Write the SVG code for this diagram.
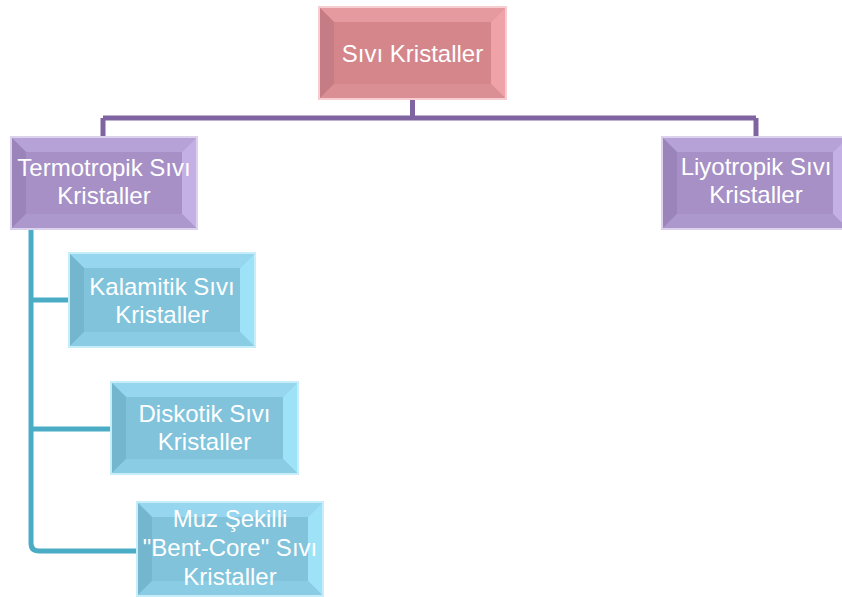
<svg xmlns="http://www.w3.org/2000/svg" width="842" height="597" viewBox="0 0 842 597">
<style>
  .pink { --o:#F6CDD0; --m:#D4868B; --t:#E59AA0; --l:#C67C84; --r:#EFA3A8; --b:#DA8F94; }
  .purple { --o:#DDD2EE; --m:#A690C6; --t:#B7A2D7; --l:#9B84BA; --r:#C4B0E4; --b:#AD98CE; }
  .blue { --o:#C6EEFA; --m:#80C3DB; --t:#96D6EE; --l:#74B6CE; --r:#9EE2F8; --b:#89CCE3; }
  .frame { fill: none; stroke: var(--o); stroke-width: 2; }
  .face { fill: var(--m); }
  .bt { fill: var(--t); }
  .bl { fill: var(--l); }
  .br { fill: var(--r); }
  .bb { fill: var(--b); }
  .lbl { font-family: "Liberation Sans", Arial, sans-serif; font-size: 24px; fill: #FFFFFF; text-anchor: middle; }
  .cp { fill: none; stroke: #8064A2; stroke-width: 5; }
  .cb { fill: none; stroke: #4BACC6; stroke-width: 5; }
</style>
<rect width="842" height="597" fill="#FFFFFF"/>
<g id="connectors">
  <path class="cp" d="M412.5 98 V118 M103 118 H756 M103 118 V139 M756 118 V139"/>
  <path class="cb" d="M31 228 V543 Q31 551 39 551 H139 M31 300 H71 M31 429 H113"/>
</g>
<g id="n-sivi" class="pink" transform="translate(320,8)">
  <rect class="frame" x="-1" y="-1" width="187" height="92"/>
  <rect class="face" width="185" height="90"/>
  <polygon class="bt" points="0,0 185,0 171,14 14,14"/>
  <polygon class="bl" points="0,0 14,14 14,76 0,90"/>
  <polygon class="br" points="185,0 185,90 171,76 171,14"/>
  <polygon class="bb" points="0,90 14,76 171,76 185,90"/>
  <text class="lbl" x="92.5" y="54">Sıvı Kristaller</text>
</g>
<g id="n-termo" class="purple" transform="translate(12,138)">
  <rect class="frame" x="-1" y="-1" width="186" height="92"/>
  <rect class="face" width="184" height="90"/>
  <polygon class="bt" points="0,0 184,0 170,14 14,14"/>
  <polygon class="bl" points="0,0 14,14 14,76 0,90"/>
  <polygon class="br" points="184,0 184,90 170,76 170,14"/>
  <polygon class="bb" points="0,90 14,76 170,76 184,90"/>
  <text class="lbl" x="92" y="38">Termotropik Sıvı</text>
  <text class="lbl" x="92" y="66">Kristaller</text>
</g>
<g id="n-liyo" class="purple" transform="translate(663,138)">
  <rect class="frame" x="-1" y="-1" width="186" height="92"/>
  <rect class="face" width="184" height="90"/>
  <polygon class="bt" points="0,0 184,0 170,14 14,14"/>
  <polygon class="bl" points="0,0 14,14 14,76 0,90"/>
  <polygon class="br" points="184,0 184,90 170,76 170,14"/>
  <polygon class="bb" points="0,90 14,76 170,76 184,90"/>
  <text class="lbl" x="93" y="37">Liyotropik Sıvı</text>
  <text class="lbl" x="93" y="65">Kristaller</text>
</g>
<g id="n-kalamitik" class="blue" transform="translate(70,254)">
  <rect class="frame" x="-1" y="-1" width="186" height="94"/>
  <rect class="face" width="184" height="92"/>
  <polygon class="bt" points="0,0 184,0 170,14 14,14"/>
  <polygon class="bl" points="0,0 14,14 14,78 0,92"/>
  <polygon class="br" points="184,0 184,92 170,78 170,14"/>
  <polygon class="bb" points="0,92 14,78 170,78 184,92"/>
  <text class="lbl" x="92" y="41">Kalamitik Sıvı</text>
  <text class="lbl" x="92" y="69">Kristaller</text>
</g>
<g id="n-diskotik" class="blue" transform="translate(112,383)">
  <rect class="frame" x="-1" y="-1" width="187" height="92"/>
  <rect class="face" width="185" height="90"/>
  <polygon class="bt" points="0,0 185,0 171,14 14,14"/>
  <polygon class="bl" points="0,0 14,14 14,76 0,90"/>
  <polygon class="br" points="185,0 185,90 171,76 171,14"/>
  <polygon class="bb" points="0,90 14,76 171,76 185,90"/>
  <text class="lbl" x="92.5" y="39">Diskotik Sıvı</text>
  <text class="lbl" x="92.5" y="67">Kristaller</text>
</g>
<g id="n-muz" class="blue" transform="translate(138,503)">
  <rect class="frame" x="-1" y="-1" width="186" height="94"/>
  <rect class="face" width="184" height="92"/>
  <polygon class="bt" points="0,0 184,0 170,14 14,14"/>
  <polygon class="bl" points="0,0 14,14 14,78 0,92"/>
  <polygon class="br" points="184,0 184,92 170,78 170,14"/>
  <polygon class="bb" points="0,92 14,78 170,78 184,92"/>
  <text class="lbl" x="92" y="24">Muz Şekilli</text>
  <text class="lbl" x="92" y="53">"Bent-Core" Sıvı</text>
  <text class="lbl" x="92" y="82">Kristaller</text>
</g>
</svg>
